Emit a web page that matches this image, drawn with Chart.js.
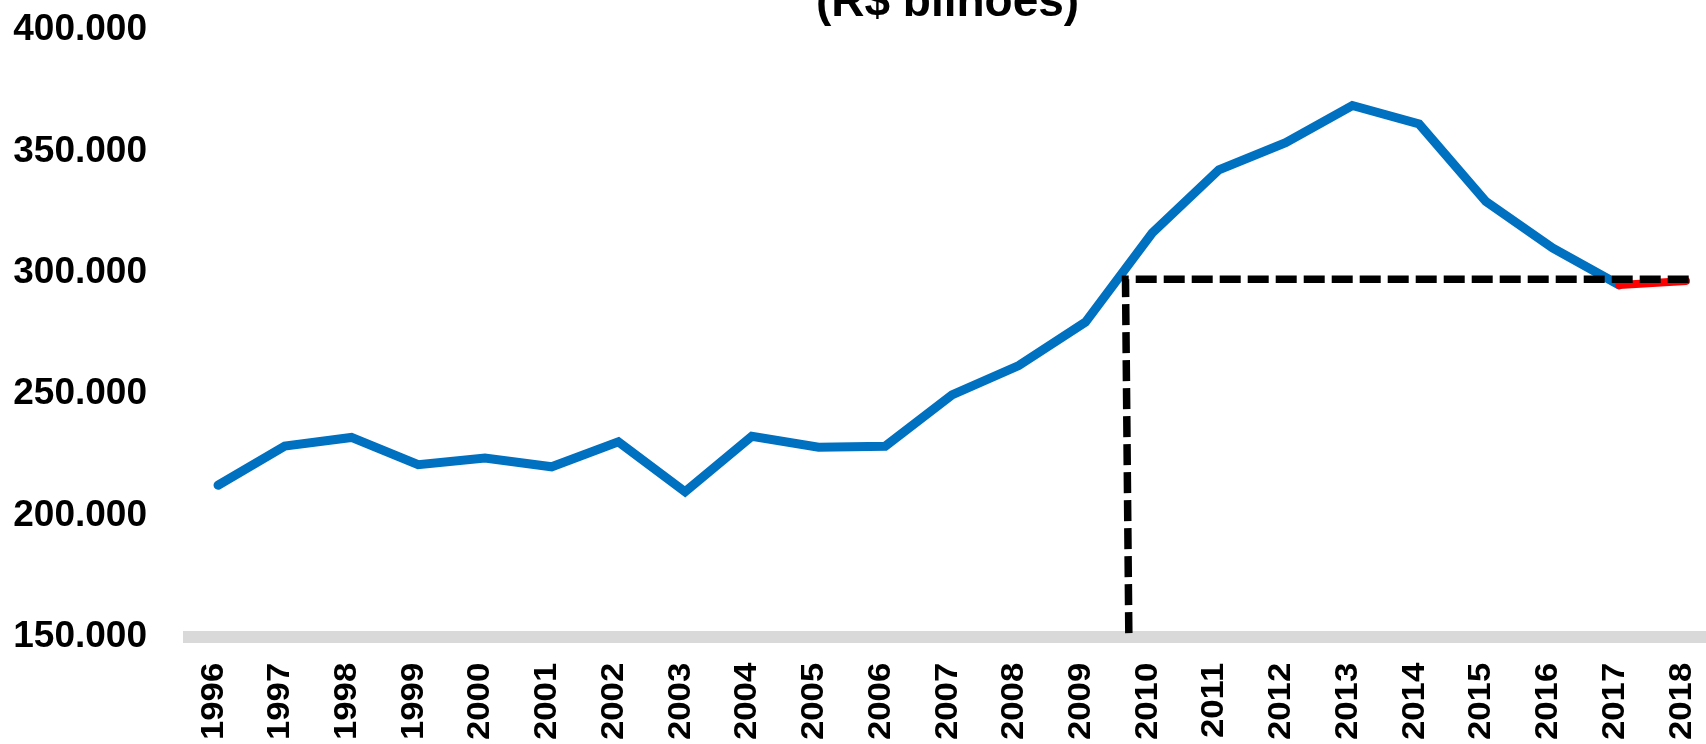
<!DOCTYPE html>
<html>
<head>
<meta charset="utf-8">
<script src="https://cdn.jsdelivr.net/npm/chart.js@4.4.1/dist/chart.umd.min.js"></script>
<style>
  html, body { margin: 0; padding: 0; background: #ffffff; }
  #wrap { width: 1706px; height: 744px; position: relative; }
</style>
</head>
<body>
<div id="wrap"><canvas id="chart"></canvas></div>
<script>
// ---- data ----
const titleText = '(R$ bilhões)';
const years = [1996, 1997, 1998, 1999, 2000, 2001, 2002, 2003, 2004, 2005, 2006, 2007,
               2008, 2009, 2010, 2011, 2012, 2013, 2014, 2015, 2016, 2017, 2018];
const receita = [212500, 228600, 232200, 221000, 223700, 220100, 230400, 209800, 232700, 228200,
                 228600, 249700, 261800, 279700, 316400, 342400, 353600, 368900, 361300, 329400,
                 310200, 295000, null];
const recenteYears = [2017, 2018];
const recenteValues = [295000, 296600];
const refLineX = [2009.65, 2009.6, 2018.1];
const refLineY = [151600, 297300, 297300];
const yTickValues = [150000, 200000, 250000, 300000, 350000, 400000];
const yTickLabels = ['150.000', '200.000', '250.000', '300.000', '350.000', '400.000'];

// ---- build ----
const blueData = years.map((y, i) => ({ x: y, y: receita[i] })).filter(p => p.y !== null);
const redData = recenteYears.map((y, i) => ({ x: y, y: recenteValues[i] }));
const refData = refLineX.map((x, i) => ({ x: x, y: refLineY[i] }));

const FONT = '"Liberation Sans", Arial, sans-serif';
const X_LABEL_STRETCH = 1.12;

// title partly cut off at the top edge, centred over the plot area
const topTitle = {
  id: 'topTitle',
  afterDraw(chart) {
    const { ctx, chartArea } = chart;
    ctx.save();
    ctx.font = 'bold 46px ' + FONT;
    ctx.fillStyle = '#000000';
    ctx.textAlign = 'center';
    ctx.textBaseline = 'alphabetic';
    ctx.fillText(titleText, (chartArea.left + chartArea.right) / 2, 16);
    ctx.restore();
  }
};

// the year labels in the original are slightly stretched along their length
const xLabelStretch = {
  id: 'xLabelStretch',
  beforeDraw(chart) {
    const s = chart.scales.x;
    if (s && !s.__st) {
      const orig = s.drawLabels;
      s.drawLabels = function (area) {
        const ctx = this.ctx;
        const top = this.top;
        ctx.save();
        ctx.translate(0, top);
        ctx.scale(1, X_LABEL_STRETCH);
        ctx.translate(0, -top);
        orig.call(this, area);
        ctx.restore();
      };
      s.__st = true;
    }
  }
};

new Chart(document.getElementById('chart'), {
  type: 'line',
  data: {
    datasets: [
      {
        label: 'referência',
        data: refData,
        borderColor: '#000000',
        borderWidth: 7.5,
        borderDash: [21, 7],
        borderCapStyle: 'butt',
        borderJoinStyle: 'miter',
        pointRadius: 0,
        fill: false,
        tension: 0
      },
      {
        label: 'recente',
        data: redData,
        borderColor: '#FF0000',
        borderWidth: 8,
        borderCapStyle: 'round',
        borderJoinStyle: 'round',
        pointRadius: 0,
        fill: false,
        tension: 0
      },
      {
        label: 'Receita',
        data: blueData,
        borderColor: '#0070C0',
        borderWidth: 9,
        borderCapStyle: 'round',
        borderJoinStyle: 'miter',
        pointRadius: 0,
        fill: false,
        tension: 0
      }
    ]
  },
  options: {
    responsive: true,
    maintainAspectRatio: false,
    animation: false,
    layout: { padding: { top: 30, left: 0, right: 0, bottom: 0 } },
    plugins: {
      legend: { display: false },
      tooltip: { enabled: false },
      title: { display: false }
    },
    scales: {
      x: {
        type: 'linear',
        min: 1995.565,
        max: 2018.3,
        offset: false,
        grid: { display: true, drawOnChartArea: false, drawTicks: false, color: 'rgba(0,0,0,0)' },
        border: { display: true, color: '#D9D9D9', width: 12 },
        afterBuildTicks: (scale) => { scale.ticks = years.map(v => ({ value: v })); },
        afterFit: (scale) => { scale.height = 107; scale.paddingLeft = 0; scale.paddingRight = 0; },
        ticks: {
          autoSkip: false,
          minRotation: 90,
          maxRotation: 90,
          padding: 23,
          labelOffset: -4,
          color: '#000000',
          font: { family: FONT, size: 31, weight: 'bold' },
          callback: (value) => String(value)
        }
      },
      y: {
        type: 'linear',
        min: 150000,
        max: 400000,
        grid: { display: false, drawTicks: false },
        border: { display: false },
        afterBuildTicks: (scale) => { scale.ticks = yTickValues.map(v => ({ value: v })); },
        afterFit: (scale) => { scale.width = 189; scale.paddingTop = 0; },
        ticks: {
          padding: 42,
          color: '#000000',
          font: { family: FONT, size: 37, weight: 'bold' },
          callback: (value) => {
            const i = yTickValues.indexOf(value);
            return i >= 0 ? yTickLabels[i] : '';
          }
        }
      }
    }
  },
  plugins: [topTitle, xLabelStretch]
});
</script>
</body>
</html>
